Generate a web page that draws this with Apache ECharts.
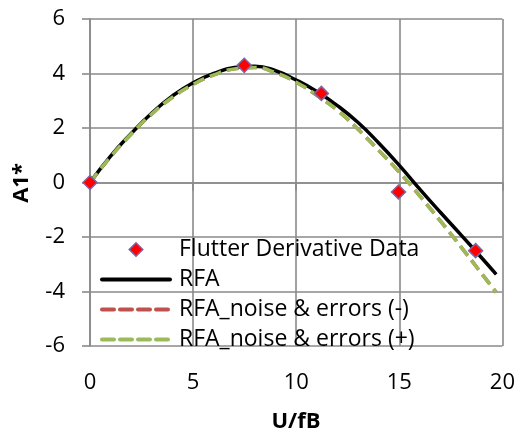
<!DOCTYPE html>
<html>
<head>
<meta charset="utf-8">
<script src="https://cdn.jsdelivr.net/npm/echarts@6/dist/echarts.min.js"></script>
<style>
  html, body { margin: 0; padding: 0; background: #fff; }
  #chart { width: 518px; height: 438px; }
</style>
</head>
<body>
<div id="chart"></div>
<script>
// Flutter derivative A1* against reduced velocity U/fB
const dataX = [0, 7.48, 11.22, 14.96, 18.7];
const dataY = [0, 4.3, 3.27, -0.35, -2.5];

const curveX = [0, 1, 2, 3, 4, 5, 6, 7, 8, 9, 10, 11, 12, 13, 14, 15, 16, 17, 18, 19, 19.7];
const rfa = [0, 0.97, 1.8, 2.55, 3.18, 3.66, 4.0, 4.22, 4.27, 4.1, 3.76, 3.34, 2.82, 2.2, 1.45, 0.63, -0.25, -1.1, -1.93, -2.77, -3.37];
const rfaMinus = [0, 0.95, 1.78, 2.52, 3.13, 3.6, 3.95, 4.17, 4.22, 4.03, 3.68, 3.2, 2.65, 1.95, 1.18, 0.38, -0.5, -1.42, -2.37, -3.35, -4.03];
const rfaPlus = [0, 0.95, 1.78, 2.52, 3.13, 3.6, 3.95, 4.17, 4.22, 4.03, 3.68, 3.2, 2.65, 1.95, 1.18, 0.38, -0.5, -1.42, -2.37, -3.35, -4.03];

const seriesNames = ['Flutter Derivative Data', 'RFA', 'RFA_noise & errors (-)', 'RFA_noise & errors (+)'];
const xTitle = 'U/fB';
const yTitle = 'A1*';

const pairs = (xs, ys) => xs.map((x, i) => [x, ys[i]]);

const FONT = 'Open Sans';
const GRID = '#8a8a8a';
const RED = '#c0504d';
const GREEN = '#9bbb59';
const DASH = [12, 6];
const MARKER = { color: '#ff0000', borderColor: '#8064a2', borderWidth: 1.5 };

const hidden = { opacity: 0 };

const chart = echarts.init(document.getElementById('chart'), null, { renderer: 'canvas' });
chart.setOption({
  animation: false,
  backgroundColor: '#ffffff',
  grid: { left: 90, right: 15, top: 19, bottom: 92, containLabel: false },
  xAxis: {
    type: 'value', min: 0, max: 20, interval: 5,
    axisLine: { show: true, lineStyle: { color: GRID, width: 1.6 } },
    axisTick: { show: true, length: 8, inside: false, lineStyle: { color: GRID, width: 1.6 } },
    splitLine: { show: true, lineStyle: { color: GRID, width: 1.6 } },
    axisLabel: { margin: 26, color: '#000', fontFamily: FONT, fontSize: 22 }
  },
  yAxis: {
    type: 'value', min: -6, max: 6, interval: 2,
    axisLine: { show: true, onZero: false, lineStyle: { color: GRID, width: 1.6 } },
    axisTick: { show: true, length: 8, inside: false, lineStyle: { color: GRID, width: 1.6 } },
    splitLine: { show: true, lineStyle: { color: GRID, width: 1.6 } },
    axisLabel: { margin: 25, color: '#000', fontFamily: FONT, fontSize: 22, padding: [5, 0, 0, 0] }
  },
  legend: {
    orient: 'vertical',
    left: 95, top: 233,
    itemWidth: 68, itemHeight: 17, itemGap: 7,
    data: [
      { name: seriesNames[0], itemStyle: MARKER, lineStyle: { width: 0, opacity: 0 } },
      { name: seriesNames[1], itemStyle: hidden, lineStyle: { color: '#000', width: 4, type: 'solid', cap: 'round' } },
      { name: seriesNames[2], itemStyle: hidden, lineStyle: { color: RED, width: 4, type: DASH, cap: 'round' } },
      { name: seriesNames[3], itemStyle: hidden, lineStyle: { color: GREEN, width: 4, type: DASH, cap: 'round' } }
    ],
    textStyle: { color: '#000', fontFamily: FONT, fontSize: 23, lineHeight: 22, padding: [0, 0, 0, 4] }
  },
  graphic: [
    { type: 'text', style: { text: xTitle, x: 0, y: 0, fontFamily: FONT, fontSize: 22, fontWeight: 'bold', fill: '#000', align: 'center', verticalAlign: 'middle' }, x: 296, y: 422 },
    { type: 'text', style: { text: yTitle, x: 0, y: 0, fontFamily: FONT, fontSize: 22, fontWeight: 'bold', fill: '#000', align: 'center', verticalAlign: 'middle' }, x: 22, y: 183, rotation: Math.PI / 2 }
  ],
  series: [
    {
      name: seriesNames[2], type: 'line', data: pairs(curveX, rfaMinus), smooth: 0.5,
      symbol: 'none', lineStyle: { color: RED, width: 3.5, type: DASH }, itemStyle: { color: RED }, z: 2
    },
    {
      name: seriesNames[3], type: 'line', data: pairs(curveX, rfaPlus), smooth: 0.5,
      symbol: 'none', lineStyle: { color: GREEN, width: 3.5, type: DASH }, itemStyle: { color: GREEN }, z: 4
    },
    {
      name: seriesNames[1], type: 'line', data: pairs(curveX, rfa), smooth: 0.5,
      symbol: 'none', lineStyle: { color: '#000', width: 3.5 }, itemStyle: { color: '#000' }, z: 3
    },
    {
      // measured points: markers only, no connecting line
      name: seriesNames[0], type: 'line', data: pairs(dataX, dataY),
      symbol: 'diamond', symbolSize: 14, showSymbol: true, showAllSymbol: true,
      lineStyle: { width: 0, opacity: 0 },
      itemStyle: MARKER, z: 5
    }
  ]
});
</script>
</body>
</html>
